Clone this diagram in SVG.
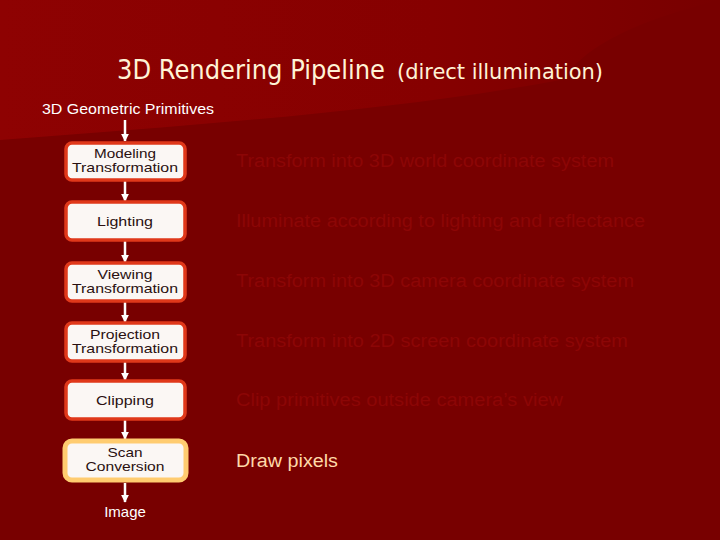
<svg xmlns="http://www.w3.org/2000/svg" width="720" height="540" viewBox="0 0 720 540">
<defs>
<linearGradient id="bgTop" x1="0" y1="0" x2="1" y2="0">
<stop offset="0" stop-color="#8e0202"/>
<stop offset="0.6" stop-color="#860000"/>
<stop offset="1" stop-color="#780000"/>
</linearGradient>
<marker id="ah" viewBox="0 0 10 10" refX="9" refY="5" markerWidth="8" markerHeight="8" orient="auto" markerUnits="userSpaceOnUse">
<path d="M0,0 L10,5 L0,10 z" fill="#ffffff"/>
</marker>
<style>
.box{fill:#fbf7f4;stroke:#e0381a;stroke-width:3.5}
.box2{fill:#fbf7f4;stroke:#ffcc70;stroke-width:5}
.lbl{font-family:"Liberation Sans",Arial,sans-serif;font-size:13px;fill:#2a1010;text-anchor:middle}
.desc{font-family:"Liberation Sans",Arial,sans-serif;font-size:18px;fill:#8c0606}
.wt{font-family:"Liberation Sans",Arial,sans-serif;font-size:15px;fill:#ffffff}
.con line{stroke:#ffffff;stroke-width:2.5}
</style>
</defs>
<rect x="0" y="0" width="720" height="540" fill="#780000"/>
<path d="M0,0 H720 C600,30 580,60 560,80 C400,110 200,125 0,140 Z" fill="url(#bgTop)"/>

<text x="117" y="79" font-family="'DejaVu Sans Condensed','DejaVu Sans',sans-serif" font-size="26" fill="#fff3d6" textLength="268" lengthAdjust="spacingAndGlyphs">3D Rendering Pipeline</text>
<text x="397" y="79" font-family="'DejaVu Sans Condensed','DejaVu Sans',sans-serif" font-size="22" fill="#fff3d6" textLength="206" lengthAdjust="spacingAndGlyphs">(direct illumination)</text>

<text class="wt" x="42" y="114" textLength="172" lengthAdjust="spacingAndGlyphs">3D Geometric Primitives</text>

<g class="con">
<line x1="125" y1="120" x2="125" y2="141" marker-end="url(#ah)"/>
<line x1="125" y1="181" x2="125" y2="201" marker-end="url(#ah)"/>
<line x1="125" y1="241" x2="125" y2="262" marker-end="url(#ah)"/>
<line x1="125" y1="302" x2="125" y2="322" marker-end="url(#ah)"/>
<line x1="125" y1="362" x2="125" y2="380" marker-end="url(#ah)"/>
<line x1="125" y1="420" x2="125" y2="439" marker-end="url(#ah)"/>
<line x1="125" y1="483" x2="125" y2="502" marker-end="url(#ah)"/>
</g>

<g id="modeling">
<rect class="box" x="66" y="143" width="119" height="37" rx="6"/>
<text class="lbl" x="125" y="158" textLength="62" lengthAdjust="spacingAndGlyphs">Modeling</text>
<text class="lbl" x="125" y="172" textLength="106" lengthAdjust="spacingAndGlyphs">Transformation</text>
</g>
<g id="lighting">
<rect class="box" x="66" y="202" width="119" height="38" rx="6"/>
<text class="lbl" x="125" y="226" textLength="56" lengthAdjust="spacingAndGlyphs">Lighting</text>
</g>
<g id="viewing">
<rect class="box" x="66" y="263" width="119" height="38" rx="6"/>
<text class="lbl" x="125" y="279" textLength="55" lengthAdjust="spacingAndGlyphs">Viewing</text>
<text class="lbl" x="125" y="293" textLength="106" lengthAdjust="spacingAndGlyphs">Transformation</text>
</g>
<g id="projection">
<rect class="box" x="66" y="323" width="119" height="38" rx="6"/>
<text class="lbl" x="125" y="339" textLength="70" lengthAdjust="spacingAndGlyphs">Projection</text>
<text class="lbl" x="125" y="353" textLength="106" lengthAdjust="spacingAndGlyphs">Transformation</text>
</g>
<g id="clipping">
<rect class="box" x="66" y="381" width="119" height="38" rx="6"/>
<text class="lbl" x="125" y="405" textLength="58" lengthAdjust="spacingAndGlyphs">Clipping</text>
</g>
<g id="scan">
<rect class="box2" x="65" y="441" width="121" height="39" rx="7"/>
<text class="lbl" x="125" y="457" textLength="35" lengthAdjust="spacingAndGlyphs">Scan</text>
<text class="lbl" x="125" y="471" textLength="79" lengthAdjust="spacingAndGlyphs">Conversion</text>
</g>
<g id="image">
<text class="wt" x="125" y="517" text-anchor="middle">Image</text>
</g>

<text class="desc" x="236" y="167" textLength="378" lengthAdjust="spacingAndGlyphs">Transform into 3D world coordinate system</text>
<text class="desc" x="236" y="227" textLength="409" lengthAdjust="spacingAndGlyphs">Illuminate according to lighting and reflectance</text>
<text class="desc" x="236" y="287" textLength="398" lengthAdjust="spacingAndGlyphs">Transform into 3D camera coordinate system</text>
<text class="desc" x="236" y="347" textLength="392" lengthAdjust="spacingAndGlyphs">Transform into 2D screen coordinate system</text>
<text class="desc" x="236" y="406" textLength="327" lengthAdjust="spacingAndGlyphs">Clip primitives outside camera’s view</text>
<text class="desc" x="236" y="467" style="fill:#ffd9a8" textLength="102" lengthAdjust="spacingAndGlyphs">Draw pixels</text>
</svg>
